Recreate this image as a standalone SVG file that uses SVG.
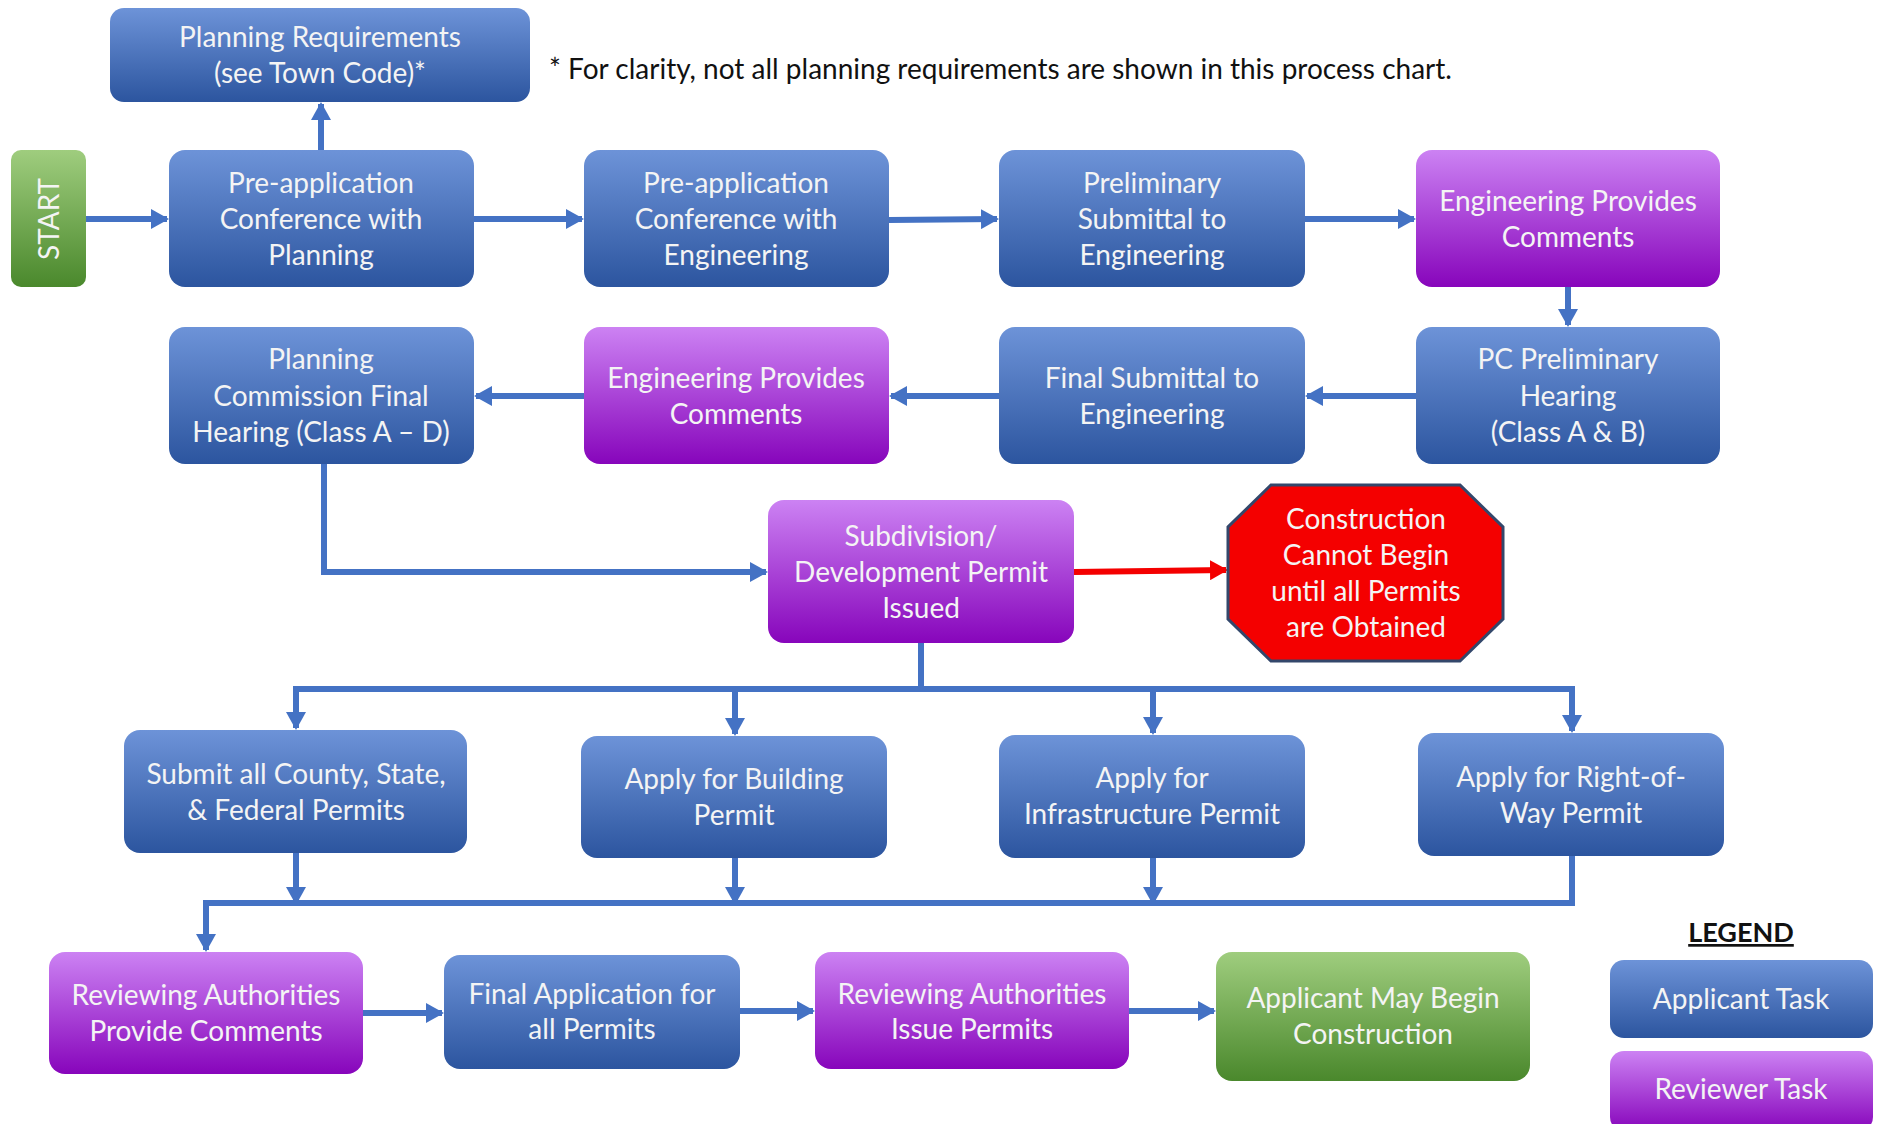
<svg xmlns="http://www.w3.org/2000/svg" width="1877" height="1124" viewBox="0 0 1877 1124">
<defs>
<linearGradient id="gBlue" x1="0" y1="0" x2="0" y2="1"><stop offset="0" stop-color="#6d93d8"/><stop offset="1" stop-color="#2c559f"/></linearGradient>
<linearGradient id="gPurple" x1="0" y1="0" x2="0" y2="1"><stop offset="0" stop-color="#cc82f3"/><stop offset="1" stop-color="#8705bb"/></linearGradient>
<linearGradient id="gGreen" x1="0" y1="0" x2="0" y2="1"><stop offset="0" stop-color="#9fcd7e"/><stop offset="1" stop-color="#4a882c"/></linearGradient>
<marker id="ah" markerUnits="userSpaceOnUse" markerWidth="18" markerHeight="20" refX="16" refY="10" orient="auto"><path d="M0,0 L18,10 L0,20 Z" fill="#4472c4"/></marker>
<marker id="ahr" markerUnits="userSpaceOnUse" markerWidth="18" markerHeight="20" refX="16" refY="10" orient="auto"><path d="M0,0 L18,10 L0,20 Z" fill="#f40000"/></marker>
</defs>
<style>
.b{fill:url(#gBlue);}
.p{fill:url(#gPurple);}
.g{fill:url(#gGreen);}
text{font-family:Lato,"Open Sans","Liberation Sans",sans-serif;font-size:28px;fill:#f4f4f4;text-anchor:middle;}
.note{fill:#111;text-anchor:start;font-size:28px;}
.leg{fill:#111;font-weight:bold;font-size:27px;text-decoration:underline;}
.c{fill:none;stroke:#4472c4;stroke-width:6;}
</style>
<rect width="1877" height="1124" fill="#ffffff"/>

<g id="connectors">
<line class="c" x1="86" y1="219" x2="167" y2="219" marker-end="url(#ah)"/>
<line class="c" x1="321" y1="150" x2="321" y2="104" marker-end="url(#ah)"/>
<line class="c" x1="474" y1="219" x2="582" y2="219" marker-end="url(#ah)"/>
<line class="c" x1="889" y1="220" x2="997" y2="219" marker-end="url(#ah)"/>
<line class="c" x1="1305" y1="219" x2="1414" y2="219" marker-end="url(#ah)"/>
<line class="c" x1="1568" y1="287" x2="1568" y2="325" marker-end="url(#ah)"/>
<line class="c" x1="1416" y1="396" x2="1307" y2="396" marker-end="url(#ah)"/>
<line class="c" x1="999" y1="396" x2="891" y2="396" marker-end="url(#ah)"/>
<line class="c" x1="584" y1="396" x2="476" y2="396" marker-end="url(#ah)"/>
<polyline class="c" points="324,464 324,572 766,572" marker-end="url(#ah)"/>
<line x1="1074" y1="572" x2="1226" y2="570" stroke="#f40000" stroke-width="6" marker-end="url(#ahr)"/>
<polyline class="c" points="921,643 921,689"/>
<line class="c" x1="293" y1="689" x2="1575" y2="689"/>
<line class="c" x1="296" y1="689" x2="296" y2="728" marker-end="url(#ah)"/>
<line class="c" x1="735" y1="689" x2="735" y2="734" marker-end="url(#ah)"/>
<line class="c" x1="1153" y1="689" x2="1153" y2="733" marker-end="url(#ah)"/>
<line class="c" x1="1572" y1="689" x2="1572" y2="731" marker-end="url(#ah)"/>
<line class="c" x1="296" y1="853" x2="296" y2="903" marker-end="url(#ah)"/>
<line class="c" x1="735" y1="858" x2="735" y2="903" marker-end="url(#ah)"/>
<line class="c" x1="1153" y1="858" x2="1153" y2="903" marker-end="url(#ah)"/>
<polyline class="c" points="1572,856 1572,903 206,903 206,950" marker-end="url(#ah)"/>
<line class="c" x1="363" y1="1013" x2="442" y2="1013" marker-end="url(#ah)"/>
<line class="c" x1="740" y1="1011" x2="813" y2="1011" marker-end="url(#ah)"/>
<line class="c" x1="1129" y1="1011" x2="1214" y2="1011" marker-end="url(#ah)"/>
</g>

<g id="planning-req"><rect class="b" x="110" y="8" width="420" height="94" rx="14"/><text x="320" y="47">Planning Requirements</text><text x="320" y="83">(see Town Code)*</text></g>
<text class="note" x="549" y="79">* For clarity, not all planning requirements are shown in this process chart.</text>

<g id="start"><rect class="g" x="11" y="150" width="75" height="137" rx="10"/><text transform="translate(59,219) rotate(-90)" x="0" y="0">START</text></g>
<g id="preapp-planning"><rect class="b" x="169" y="150" width="305" height="137" rx="16"/><text x="321" y="193">Pre-application</text><text x="321" y="229">Conference with</text><text x="321" y="265">Planning</text></g>
<g id="preapp-eng"><rect class="b" x="584" y="150" width="305" height="137" rx="16"/><text x="736" y="193">Pre-application</text><text x="736" y="229">Conference with</text><text x="736" y="265">Engineering</text></g>
<g id="prelim-sub"><rect class="b" x="999" y="150" width="306" height="137" rx="16"/><text x="1152" y="193">Preliminary</text><text x="1152" y="229">Submittal to</text><text x="1152" y="265">Engineering</text></g>
<g id="eng-comments-1"><rect class="p" x="1416" y="150" width="304" height="137" rx="16"/><text x="1568" y="211">Engineering Provides</text><text x="1568" y="247">Comments</text></g>

<g id="pc-final"><rect class="b" x="169" y="327" width="305" height="137" rx="16"/><text x="321" y="369">Planning</text><text x="321" y="406">Commission Final</text><text x="321" y="442">Hearing (Class A – D)</text></g>
<g id="eng-comments-2"><rect class="p" x="584" y="327" width="305" height="137" rx="16"/><text x="736" y="388">Engineering Provides</text><text x="736" y="424">Comments</text></g>
<g id="final-sub"><rect class="b" x="999" y="327" width="306" height="137" rx="16"/><text x="1152" y="388">Final Submittal to</text><text x="1152" y="424">Engineering</text></g>
<g id="pc-prelim"><rect class="b" x="1416" y="327" width="304" height="137" rx="16"/><text x="1568" y="369">PC Preliminary</text><text x="1568" y="406">Hearing</text><text x="1568" y="442">(Class A &amp; B)</text></g>

<g id="subdivision"><rect class="p" x="768" y="500" width="306" height="143" rx="16"/><text x="921" y="546">Subdivision/</text><text x="921" y="582">Development Permit</text><text x="921" y="618">Issued</text></g>
<g id="stop"><polygon points="1271,485 1460,485 1503,527 1503,619 1460,661 1271,661 1228,619 1228,527" fill="#f40000" stroke="#33476b" stroke-width="3"/><text x="1366" y="529">Construction</text><text x="1366" y="565">Cannot Begin</text><text x="1366" y="601">until all Permits</text><text x="1366" y="637">are Obtained</text></g>

<g id="submit-all"><rect class="b" x="124" y="730" width="343" height="123" rx="16"/><text x="296" y="784">Submit all County, State,</text><text x="296" y="820">&amp; Federal Permits</text></g>
<g id="building"><rect class="b" x="581" y="736" width="306" height="122" rx="16"/><text x="734" y="789">Apply for Building</text><text x="734" y="825">Permit</text></g>
<g id="infra"><rect class="b" x="999" y="735" width="306" height="123" rx="16"/><text x="1152" y="788">Apply for</text><text x="1152" y="824">Infrastructure Permit</text></g>
<g id="row"><rect class="b" x="1418" y="733" width="306" height="123" rx="16"/><text x="1571" y="787">Apply for Right-of-</text><text x="1571" y="823">Way Permit</text></g>

<g id="review-comments"><rect class="p" x="49" y="952" width="314" height="122" rx="16"/><text x="206" y="1005">Reviewing Authorities</text><text x="206" y="1041">Provide Comments</text></g>
<g id="final-app"><rect class="b" x="444" y="955" width="296" height="114" rx="16"/><text x="592" y="1004">Final Application for</text><text x="592" y="1039">all Permits</text></g>
<g id="issue-permits"><rect class="p" x="815" y="952" width="314" height="117" rx="16"/><text x="972" y="1004">Reviewing Authorities</text><text x="972" y="1039">Issue Permits</text></g>
<g id="may-begin"><rect class="g" x="1216" y="952" width="314" height="129" rx="16"/><text x="1373" y="1008">Applicant May Begin</text><text x="1373" y="1044">Construction</text></g>

<g id="legend"><text class="leg" x="1741" y="942">LEGEND</text>
<g id="legend-applicant"><rect class="b" x="1610" y="960" width="263" height="78" rx="14"/><text x="1741" y="1009">Applicant Task</text></g>
<g id="legend-reviewer"><rect class="p" x="1610" y="1051" width="263" height="80" rx="14"/><text x="1741" y="1099">Reviewer Task</text></g>
</g>
</svg>
